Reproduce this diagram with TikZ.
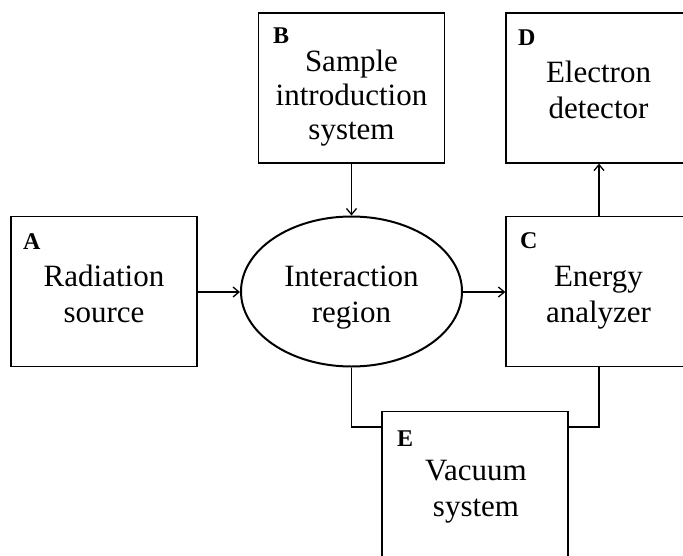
\documentclass[tikz,border=0pt]{standalone}
\usepackage{fontspec}
\setmainfont{Liberation Serif}
\usetikzlibrary{arrows.meta,shapes.geometric}
\begin{document}
\begin{tikzpicture}[x=1pt,y=-1pt,
  boxnode/.style={draw,line width=1.3pt,rectangle,minimum width=186pt,minimum height=150pt,inner sep=0pt},
  ellnode/.style={draw,line width=2pt,ellipse,minimum width=221pt,minimum height=150pt,inner sep=0pt},
  tagnode/.style={font=\bfseries\fontsize{24pt}{24pt}\selectfont,anchor=base west,inner sep=0pt},
  txt/.style={font=\fontsize{31}{36}\selectfont,align=center,anchor=base,inner sep=0pt},
  txtb/.style={font=\fontsize{31}{34}\selectfont,align=center,anchor=base,inner sep=0pt},
  conn/.style={line width=1.3pt,-{Straight Barb[length=6pt,width=10pt,line width=1.3pt]}},
  link/.style={line width=1.3pt}]
\useasboundingbox (0,0) rectangle (683,555);
\clip (0,0) rectangle (683,555);
% boxes
\node[boxnode] (A) at (104,291.5) {};
\node[boxnode] (B) at (351.5,88) {};
\node[boxnode] (D) at (599,88) {};
\node[boxnode] (C) at (599,291.5) {};
\node[boxnode] (E) at (475,486.5) {};
\node[ellnode] (I) at (351.5,291.5) {};
% tags
\node[tagnode] (tA) at (23,249) {A};
\node[tagnode] (tB) at (273,43) {B};
\node[tagnode] (tD) at (518,45) {D};
\node[tagnode] (tC) at (520,248) {C};
\node[tagnode] (tE) at (397,446) {E};
% texts
\node[txt] (xA) at (104,322) {Radiation\\source};
\node[txtb] (xB) at (351.5,139) {Sample\\introduction\\system};
\node[txt] (xD) at (598.5,118) {Electron\\detector};
\node[txt] (xC) at (598.5,322) {Energy\\analyzer};
\node[txt] (xI) at (351.5,322) {Interaction\\region};
\node[txt] (xE) at (476,516) {Vacuum\\system};
% connectors
\draw[conn] (A.east |- 0,292) -- (I.west |- 0,292);
\draw[conn] (B.south) -- (I.north);
\draw[conn] (I.east |- 0,292) -- (C.west |- 0,292);
\draw[conn] (C.north) -- (D.south);
\coordinate (eL) at (E.west |- 0,427);
\coordinate (eR) at (E.east |- 0,427);
\draw[link] (I.south) |- (eL);
\draw[link] (C.south) |- (eR);
\end{tikzpicture}
\end{document}
